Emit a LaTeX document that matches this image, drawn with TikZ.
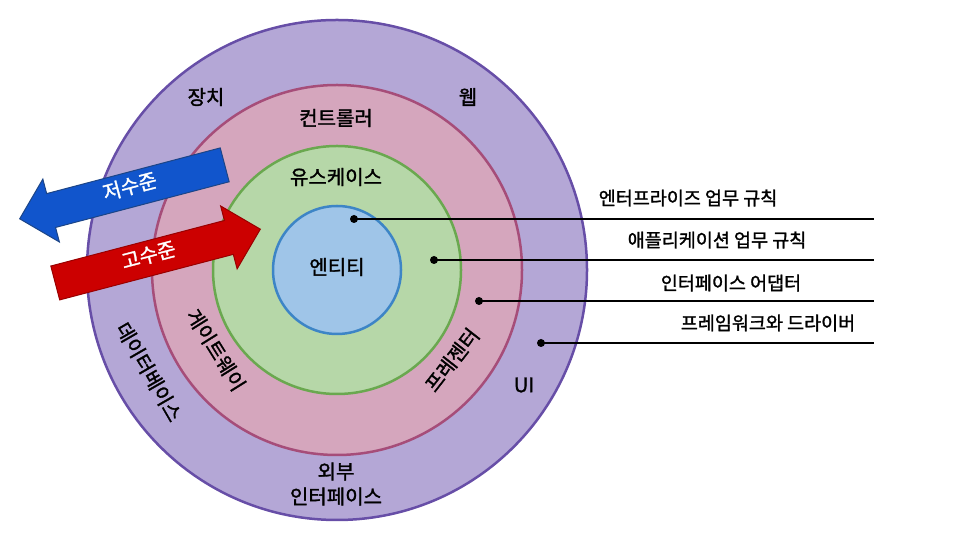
\documentclass[tikz,border=0pt]{standalone}
\usepackage{fontspec}
\setmainfont{Noto Sans CJK KR}[FakeBold=1.5]
\usetikzlibrary{shapes.arrows}
\definecolor{extfill}{HTML}{B4A7D6}
\definecolor{extdraw}{HTML}{674EA7}
\definecolor{ctlfill}{HTML}{D5A6BD}
\definecolor{ctldraw}{HTML}{A64D79}
\definecolor{usefill}{HTML}{B6D7A8}
\definecolor{usedraw}{HTML}{6AA84F}
\definecolor{entfill}{HTML}{9FC5E8}
\definecolor{entdraw}{HTML}{3D85C6}
\definecolor{lowfill}{HTML}{1155CC}
\definecolor{lowdraw}{HTML}{1C4587}
\definecolor{highfill}{HTML}{CC0000}
\definecolor{highdraw}{HTML}{990000}
\begin{document}
\begin{tikzpicture}[x=1pt, y=1pt, font=\fontsize{20}{25}\selectfont]
    \tikzset{%
      ring/.style={circle, draw, line width=2.5pt, inner sep=0pt},
      pfeil/.style={single arrow, single arrow head extend=15pt, single arrow tip angle=90,
        minimum height=212pt, text height=12pt, text depth=4pt, inner ysep=9pt,
        text=white, line width=1pt, anchor=tip},
      punkt/.style={circle, fill=black, inner sep=0pt, minimum size=8pt},
      leit/.style={line width=1.6pt},
      rand/.style={font=\fontsize{18.5}{22}\selectfont}
      }
    \useasboundingbox (0,0) rectangle (960,540);

    \node [ring, draw=extdraw, fill=extfill, minimum size=500pt] (Rext) at (337,270) {};
    \node [ring, draw=ctldraw, fill=ctlfill, minimum size=370pt] (Rctl) at (337,270) {};
    \node [ring, draw=usedraw, fill=usefill, minimum size=248pt] (Ruse) at (337,270) {};
    \node [ring, draw=entdraw, fill=entfill, minimum size=128pt] (Rent) at (337,270) {};

    \node (Lgeraet) at (206,443) {장치};
    \node (Lweb) at (468,443) {웹};
    \node (Lctl) at (336,422) {컨트롤러};
    \node (Luse) at (336,363) {유스케이스};
    \node (Lent) at (337,273) {엔티티};
    \node [rotate=-58] (Lgw) at (216,190) {게이트웨이};
    \node [rotate=-60] (Ldb) at (149,168) {데이터베이스};
    \node [rotate=52] (Lpres) at (452,180) {프레젠터};
    \node (Lui) at (524,155) {UI};
    \node [align=center] (Lext) at (336,56) {외부\\인터페이스};

    \node [pfeil, fill=lowfill, draw=lowdraw, shape border rotate=180, rotate=14.75] (Alow) at (19,321) {저수준};
    \node [pfeil, fill=highfill, draw=highdraw, rotate=14.7] (Ahigh) at (261,311) {고수준};

    \node [punkt] (Dent) at (354,321) {};
    \coordinate (Eent) at (874,321);
    \draw [leit] (Dent.center) -- (Eent);
    \node [rand] (Tent) at (688,342) {엔터프라이즈 업무 규칙};

    \node [punkt] (Duse) at (434,280) {};
    \coordinate (Euse) at (874,280);
    \draw [leit] (Duse.center) -- (Euse);
    \node [rand] (Tuse) at (717,300) {애플리케이션 업무 규칙};

    \node [punkt] (Dctl) at (479,239) {};
    \coordinate (Ectl) at (874,239);
    \draw [leit] (Dctl.center) -- (Ectl);
    \node [rand] (Tctl) at (731,257) {인터페이스 어댑터};

    \node [punkt] (Dext) at (541,197) {};
    \coordinate (Eext) at (874,197);
    \draw [leit] (Dext.center) -- (Eext);
    \node [rand] (Text) at (768,217) {프레임워크와 드라이버};

  \end{tikzpicture}
\end{document}
